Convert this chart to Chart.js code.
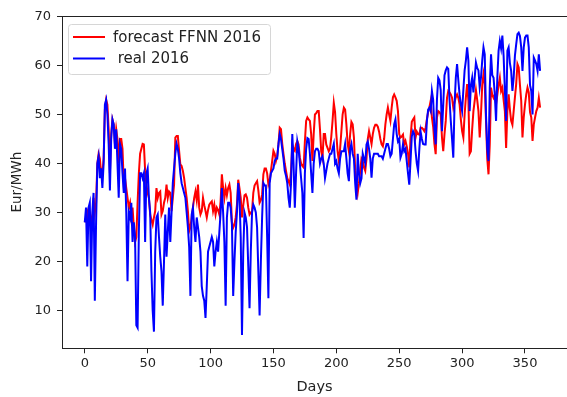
<!DOCTYPE html>
<html>
<head>
<meta charset="utf-8">
<script src="https://cdn.jsdelivr.net/npm/chart.js@4.4.0/dist/chart.umd.min.js"></script>
<style>
  html, body { margin: 0; padding: 0; background: #fff; overflow: hidden; }
  #wrap { width: 567px; height: 397px; }
</style>
</head>
<body>
<div id="wrap"><canvas id="chart" width="567" height="397"></canvas></div>
<script>
// tick labels
const xTicks = [0, 50, 100, 150, 200, 250, 300, 350];
const yTicks = [10, 20, 30, 40, 50, 60, 70];

// forecast FFNN 2016 (Eur/MWh), one value per day
const forecast = [
  28, 29, 30, 28, 30, 29, 27, 33, 30, 32,
  40, 42, 41, 38, 38, 41, 51, 53, 52, 47,
  38, 46, 49, 48, 44, 47, 45, 40, 45, 45,
  43, 36, 37, 35, 33, 31, 32, 29, 31, 27,
  24, 25, 32, 38, 42, 43, 44, 43.9, 38.5, 35.7,
  34, 33, 29.6, 28.5, 27.5, 29, 30.3, 35, 33, 34,
  34.3, 29.6, 30.3, 32, 33, 35.7, 33, 34.3, 34, 30.3,
  33, 35.7, 45.3, 45.6, 45.6, 42.6, 39.8, 39.5, 38.5, 37,
  35, 33, 30.3, 26.2, 27, 29, 31, 33, 34.3, 32.5,
  35.7, 31, 29.6, 30.3, 33, 31.5, 30.3, 29, 30.5, 31.6,
  32, 32.3, 30.3, 31.6, 29.6, 31, 30.5, 29.6, 32.3, 37.8,
  35, 33, 35, 33.5, 35, 35.7, 34, 28, 26.9, 27.5,
  29, 31.6, 36.7, 35, 33, 29, 31.5, 33.5, 33.7, 33,
  31, 29.6, 30, 30.3, 34, 35.5, 36, 36.4, 34.5, 32,
  32.5, 33.7, 37.8, 39, 39, 38, 35.7, 36.5, 38.5, 40.5,
  42.6, 42, 40.5, 41.5, 43.9, 47.3, 47, 44, 41.9, 40,
  38.5, 37, 36.4, 35.7, 38.5, 43.9, 43, 42.6, 44, 44.6,
  43.9, 41.2, 40, 39.5, 39.2, 44.5, 48.7, 49.4, 49, 48.7,
  46, 40.5, 46, 50, 50.3, 50.7, 50.7, 47, 42.5, 41.2,
  46, 46, 43.9, 43.2, 42.5, 43, 45.5, 48.7, 52.4, 50.5,
  46, 42.5, 40.5, 43, 46.5, 50, 51.4, 51, 48, 44,
  42.5, 46, 48.5, 48, 45.3, 38.5, 36, 34, 36, 38.5,
  41, 40.5, 39.2, 38.5, 41, 45, 46.6, 45.3, 44, 46,
  47.3, 47.9, 47.9, 47.5, 46.5, 45, 43.9, 43.5, 45, 48,
  50, 51.4, 50, 48.7, 51.4, 53.5, 54.1, 53.5, 52.8, 50.7,
  46, 45.3, 45.5, 45.9, 43.9, 44.6, 43.5, 42, 39.2, 45.3,
  48.5, 49, 49.4, 45.3, 46.5, 46, 45.9, 47.3, 47.3, 47,
  46.6, 47.3, 49, 50.5, 51.5, 52.8, 49.4, 47.5, 44, 41.9,
  49.4, 50.7, 50.5, 50, 45.3, 42.5, 46, 48.7, 53.4, 54.8,
  54.5, 54.1, 53.4, 51.4, 52.5, 53.5, 54.1, 53.4, 52.1, 49,
  46.6, 45.3, 50, 53.5, 56.2, 52.8, 42, 42.5, 47, 50.7,
  52.8, 55, 53, 50.7, 45.3, 50, 56, 58.2, 56.2, 48.7,
  41, 37.8, 43.9, 55.5, 54, 53.4, 54.1, 52.1, 54, 56,
  57.5, 54.8, 55.5, 53, 50.7, 43.2, 50.7, 54.1, 51, 48.7,
  47.9, 50.7, 53.5, 56.2, 60.3, 59.6, 56, 52.8, 45.3, 49.4,
  52, 54.1, 55.5, 54.5, 50.5, 49.4, 44.6, 48, 49.4, 50.7,
  51.4, 53.4, 51.4
];

// real 2016 (Eur/MWh)
const real = [
  28, 31, 19, 31, 32, 16, 30, 34, 12, 28,
  40, 41.5, 37, 39, 35, 40, 52, 53, 50, 44,
  34.5, 45, 49, 48, 43, 47, 40, 33, 44, 43,
  38, 34, 39, 30, 16, 30, 29, 32, 24, 28,
  25, 7, 6.5, 26, 38, 38, 37, 38, 24, 38,
  39, 33, 30, 18, 10, 5.7, 22, 29, 29.6, 25,
  21, 18, 11, 20, 29.6, 21, 26, 31, 24, 30,
  36, 39, 42, 44, 43, 41, 38, 36, 35, 34,
  33, 30, 27, 23, 13, 29.6, 31, 27, 24, 29,
  27, 25, 22, 15, 13, 12, 8.5, 15, 22, 23,
  24, 25, 24, 19, 22, 24, 22, 26, 30, 35,
  30, 24, 11, 29, 32, 32, 31, 27.5, 13, 20,
  26, 30, 36, 33, 25, 5, 22, 30, 29, 27,
  19, 10.5, 22, 30, 31.6, 31, 30, 27, 18, 9,
  20, 29, 36, 35.5, 35.5, 25, 12.5, 36, 38, 38.5,
  39, 40.5, 41, 41, 44, 46, 45, 43, 41, 38.5,
  37.5, 36, 33, 31, 36, 46, 40, 31, 38, 44.5,
  43, 40, 37, 34, 24.8, 38, 43, 45.2, 45, 42,
  38, 34, 40, 42.5, 43, 43, 42.5, 40, 41, 41.5,
  40, 37, 38.5, 40, 41, 42, 42, 43, 44, 40,
  40.5, 39, 38, 41, 42.5, 42.5, 42.5, 44, 41, 38,
  36.4, 43, 44, 42, 41, 36, 32.6, 42, 38, 36,
  37, 42, 41, 40, 43.9, 44.5, 43, 41, 37.1, 41,
  42, 42, 42, 42, 41.5, 41.5, 41.5, 41, 42, 43,
  44, 44, 43, 41.5, 42, 45, 48, 49, 46, 44.5,
  45, 41.2, 42, 43.9, 42.5, 43, 40.5, 38, 35.7, 40.5,
  45.5, 46.6, 46, 42.5, 40, 38.5, 43, 46.5, 45, 44,
  43.9, 43.9, 48.7, 51, 51.4, 50.7, 54.8, 53, 47, 43.9,
  53, 57.5, 57, 55, 46.6, 52, 58, 59, 59.6, 59.3,
  53, 48.7, 45, 41.2, 52, 57.5, 60.3, 57, 54, 52,
  50.7, 55, 59, 61, 63.7, 61, 50.7, 56, 57.5, 54.5,
  57.5, 60.6, 59.5, 59, 55.5, 57.5, 61, 63.7, 62.3, 50,
  43, 40.5, 55.5, 62.3, 58, 57.5, 54.1, 48.7, 57.5, 63,
  65, 63.5, 66.1, 62, 55, 48.7, 63, 63.7, 60.5, 58.9,
  54.8, 57.5, 62, 64.3, 66.4, 66.7, 66, 63.7, 58.9, 63.7,
  65.7, 66.1, 66.1, 63.7, 56, 54.8, 50, 61.6, 61, 60.3,
  58.9, 62.3, 58.9
];

const days = forecast.map((_, i) => i);

const FONT = "'DejaVu Sans', 'Liberation Sans', sans-serif";
const TXT = '#222';

// matplotlib style legend inside the axes, plus the top spine
const mplExtras = {
  id: 'mplExtras',
  afterDraw(chart) {
    const { ctx, chartArea: a } = chart;
    ctx.save();
    ctx.strokeStyle = '#222';
    ctx.lineWidth = 1;
    const top = Math.round(a.top) + 0.5;
    ctx.beginPath();
    ctx.moveTo(a.left, top);
    ctx.lineTo(a.right, top);
    ctx.stroke();

    ctx.beginPath();
    ctx.roundRect(68.5, 24.5, 202, 50, 3);
    ctx.fillStyle = 'rgba(255,255,255,0.8)';
    ctx.fill();
    ctx.strokeStyle = '#d6d6d6';
    ctx.stroke();

    const items = [chart.data.datasets[1], chart.data.datasets[0]];
    items.forEach((ds, i) => {
      const y = 37 + i * 21.5;
      ctx.strokeStyle = ds.borderColor;
      ctx.lineWidth = 2;
      ctx.beginPath();
      ctx.moveTo(73, y);
      ctx.lineTo(105, y);
      ctx.stroke();
      ctx.fillStyle = TXT;
      ctx.font = '15px ' + FONT;
      ctx.textBaseline = 'middle';
      ctx.fillText(ds.label, 113, y + 1);
    });
    ctx.restore();
  }
};

new Chart(document.getElementById('chart'), {
  type: 'line',
  data: {
    datasets: [
      {
        label: ' real 2016',
        data: days.map((d, i) => ({ x: d, y: real[i] })),
        borderColor: '#0000ff',
        borderWidth: 2,
        pointRadius: 0,
        tension: 0,
        order: 0
      },
      {
        label: 'forecast FFNN 2016',
        data: days.map((d, i) => ({ x: d, y: forecast[i] })),
        borderColor: '#ff0000',
        borderWidth: 2,
        pointRadius: 0,
        tension: 0,
        order: 1
      }
    ]
  },
  options: {
    responsive: false,
    animation: false,
    devicePixelRatio: 1,
    // the plot's right edge lies past the picture's border in the reference
    layout: { padding: { top: 16, right: -6.6, left: 0, bottom: 0 } },
    plugins: { legend: { display: false }, tooltip: { enabled: false } },
    scales: {
      x: {
        type: 'linear',
        min: -18.1,
        max: 383.4,
        afterBuildTicks: s => { s.ticks = xTicks.map(v => ({ value: v })); },
        afterFit: s => { s.height = 48.7; },
        grid: { drawOnChartArea: false, tickLength: 5, color: '#222' },
        border: { color: '#222' },
        ticks: { color: TXT, font: { family: FONT, size: 13 }, padding: 3, maxRotation: 0 },
        title: { display: true, text: 'Days', color: TXT, font: { family: FONT, size: 14.5 }, padding: { top: 0, bottom: 1 } }
      },
      y: {
        min: 2.3,
        max: 70.1,
        afterBuildTicks: s => { s.ticks = yTicks.map(v => ({ value: v })); },
        afterFit: s => { s.width = 62; },
        grid: { drawOnChartArea: false, tickLength: 5, color: '#222' },
        border: { color: '#222' },
        ticks: { color: TXT, font: { family: FONT, size: 13 }, padding: 6 },
        title: { display: true, text: 'Eur/MWh', color: TXT, font: { family: FONT, size: 13.5 }, padding: { top: 9, bottom: 0 } }
      }
    }
  },
  plugins: [mplExtras]
});
</script>
</body>
</html>
